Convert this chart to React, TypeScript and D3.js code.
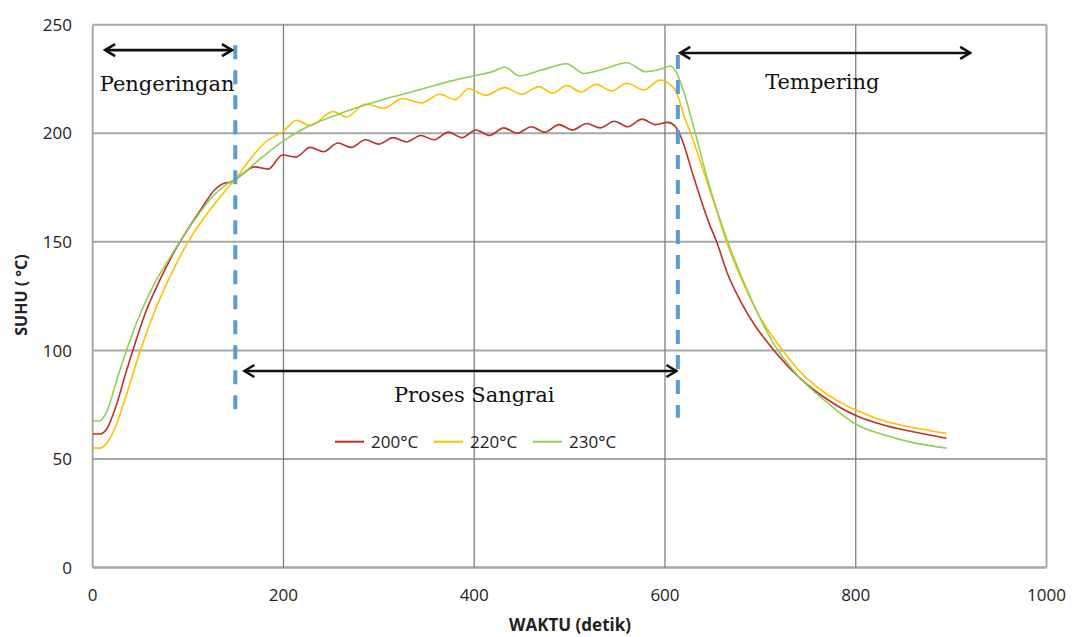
import React from "react";
import * as d3 from "d3";

// suhu (°C) vs waktu (detik) for three roasting temperatures
const red200: [number, number][] = [
  [0, 61.5], [8, 61.5], [15, 64], [25, 75], [35, 90], [45, 104], [55, 117], [70, 132], [85, 145],
  [100, 156], [115, 166], [128, 174], [138, 177], [146, 177.5], [155, 180.5], [170, 184.5],
  [184, 183.5], [199, 190], [213, 189], [228, 193.5], [242, 191.5], [257, 195.5], [271, 193.5],
  [286, 197], [300, 195], [315, 198], [329, 196], [344, 199], [358, 197], [373, 200.5], [387, 198],
  [402, 201.5], [416, 199], [431, 202.5], [445, 200], [460, 203], [474, 200.5], [489, 204],
  [503, 201.5], [518, 204.5], [532, 202.5], [547, 205.5], [561, 203], [576, 206.5], [590, 204],
  [603, 205], [610, 203.5], [617, 198], [630, 180], [645, 160], [655, 149], [665, 136], [680, 122],
  [695, 111], [707, 104], [720, 97], [742, 87], [770, 77.5], [800, 70], [830, 65.5], [860, 62.5],
  [895, 59.5],
];
const yellow220: [number, number][] = [
  [0, 55], [8, 55], [15, 57.5], [25, 66], [35, 79], [50, 100], [65, 118], [80, 133], [100, 150],
  [120, 163], [140, 174], [150, 179], [165, 188], [180, 195.5], [200, 201], [214, 206],
  [228, 203.5], [252, 210], [266, 207.5], [286, 213.5], [305, 211.5], [325, 216], [345, 214],
  [364, 218], [380, 215.5], [394, 220.5], [412, 217.5], [432, 221], [450, 218], [468, 221.5],
  [482, 218.5], [497, 222], [512, 219], [528, 222.5], [544, 219.5], [560, 223], [578, 220],
  [595, 224.5], [605, 222.5], [612, 219], [620, 208], [627, 200], [640, 183], [650, 170],
  [665, 149.5], [680, 133], [700, 115], [720, 102], [740, 91], [760, 83], [780, 77], [800, 72.5],
  [830, 67.5], [860, 64.5], [895, 61.8],
];
const green230: [number, number][] = [
  [0, 67.5], [7, 67.5], [15, 72], [25, 86], [35, 99.5], [50, 117], [65, 131], [80, 142],
  [95, 152.5], [110, 162], [125, 170.5], [140, 176.5], [150, 179], [175, 188], [200, 196.5],
  [225, 203], [250, 207.5], [275, 211.5], [300, 215], [325, 218], [350, 221], [375, 224],
  [400, 226.5], [420, 228.5], [432, 230.5], [447, 226.5], [470, 229], [497, 232], [515, 227.5],
  [535, 229.5], [560, 232.5], [580, 228.3], [595, 229.5], [606, 231], [612, 228], [619, 220],
  [630, 203], [645, 178], [665, 151], [690, 124], [714, 103], [740, 88], [770, 76], [800, 66],
  [830, 61], [860, 57.5], [895, 55],
];

const seriesNames = ["200°C", "220°C", "230°C"];
const seriesColors = ["#c0302a", "#ffc000", "#8fcf55"];
const xTicks = [0, 200, 400, 600, 800, 1000];
const yTicks = [0, 50, 100, 150, 200, 250];

// phase markers (in data units)
const dividers = [
  { t: 149.5, top: 240.5, bottom: 72.5 },
  { t: 613.5, top: 236, bottom: 69 },
];
const arrows = [
  { from: 13, to: 146, v: 238.3 },
  { from: 616, to: 920, v: 237 },
  { from: 159, to: 612, v: 90.5 },
];
const phaseLabels = [
  { text: "Pengeringan", t: 78, v: 219.4 },
  { text: "Tempering", t: 765, v: 220.3 },
  { text: "Proses Sangrai", t: 400, v: 76.2 },
];

const W = 1075, H = 637;
const x = d3.scaleLinear().domain([0, 1000]).range([92.7, 1046.5]);
const y = d3.scaleLinear().domain([0, 250]).range([567.5, 24.7]);

export default function App() {
  const line = d3.line<[number, number]>()
    .x(d => x(d[0]))
    .y(d => y(d[1]))
    .curve(d3.curveMonotoneX);
  const all = [red200, yellow220, green230];
  const font = "'Open Sans', 'DejaVu Sans', sans-serif";
  const serif = "'DejaVu Serif', serif";

  return (
    <svg width={W} height={H} style={{ position: "absolute", left: 0, top: 0, background: "#fff" }}>
      <defs>
        <marker id="head" viewBox="-12 -8 14 16" refX={0} refY={0} markerWidth={14} markerHeight={16}
          markerUnits="userSpaceOnUse" orient="auto-start-reverse">
          <path d="M-10,-6 L0,0 L-10,6" fill="none" stroke="#111" strokeWidth={2.6} />
        </marker>
      </defs>

      {/* grid */}
      {yTicks.map(v => (
        <line key={"h" + v} x1={x(0)} x2={x(1000)} y1={y(v)} y2={y(v)}
          stroke="#a6a6a6" strokeWidth={v === 0 ? 2.5 : 2} />
      ))}
      {xTicks.map(t => (
        <line key={"v" + t} x1={x(t)} x2={x(t)} y1={y(250)} y2={y(0)}
          stroke={t === 0 || t === 1000 ? "#a6a6a6" : "#808080"} strokeWidth={t === 0 || t === 1000 ? 2 : 1.3} />
      ))}

      {/* tick labels */}
      {yTicks.map(v => (
        <text key={"yl" + v} x={72} y={y(v)} dy="0.36em" textAnchor="end"
          fontFamily={font} fontSize={17} fill="#222">{v}</text>
      ))}
      {xTicks.map(t => (
        <text key={"xl" + t} x={x(t)} y={601} textAnchor="middle"
          fontFamily={font} fontSize={17} fill="#222">{t}</text>
      ))}

      {/* axis titles */}
      <text x={570} y={631} textAnchor="middle" fontFamily={font} fontWeight="bold" fontSize={17} fill="#222">
        WAKTU (detik)
      </text>
      <text transform={`translate(27,295) rotate(-90)`} textAnchor="middle" fontFamily={font}
        fontWeight="bold" fontSize={16} fill="#222">SUHU ( °C)</text>

      {/* series */}
      {all.map((s, i) => (
        <path key={i} d={line(s) || ""} fill="none" stroke={seriesColors[i]} strokeWidth={1.6} />
      ))}

      {/* phase dividers */}
      {dividers.map((d, i) => (
        <line key={"d" + i} x1={x(d.t)} x2={x(d.t)} y1={y(d.top)} y2={y(d.bottom)}
          stroke="#5b9bd5" strokeWidth={4} strokeDasharray="14 11" />
      ))}

      {/* arrows */}
      {arrows.map((a, i) => (
        <line key={"a" + i} x1={x(a.from)} x2={x(a.to)} y1={y(a.v)} y2={y(a.v)}
          stroke="#111" strokeWidth={2.6} markerStart="url(#head)" markerEnd="url(#head)" />
      ))}

      {phaseLabels.map((l, i) => (
        <text key={"p" + i} x={x(l.t)} y={y(l.v)} textAnchor="middle"
          fontFamily={serif} fontSize={21} fill="#111">{l.text}</text>
      ))}

      {/* legend */}
      {seriesNames.map((n, i) => (
        <g key={"lg" + i} transform={`translate(${335 + i * 99},441.7)`}>
          <line x1={0} x2={29} y1={0} y2={0} stroke={seriesColors[i]} strokeWidth={2} />
          <text x={36} y={0} dy="0.36em" fontFamily={font} fontSize={17} fill="#222">{n}</text>
        </g>
      ))}
    </svg>
  );
}
